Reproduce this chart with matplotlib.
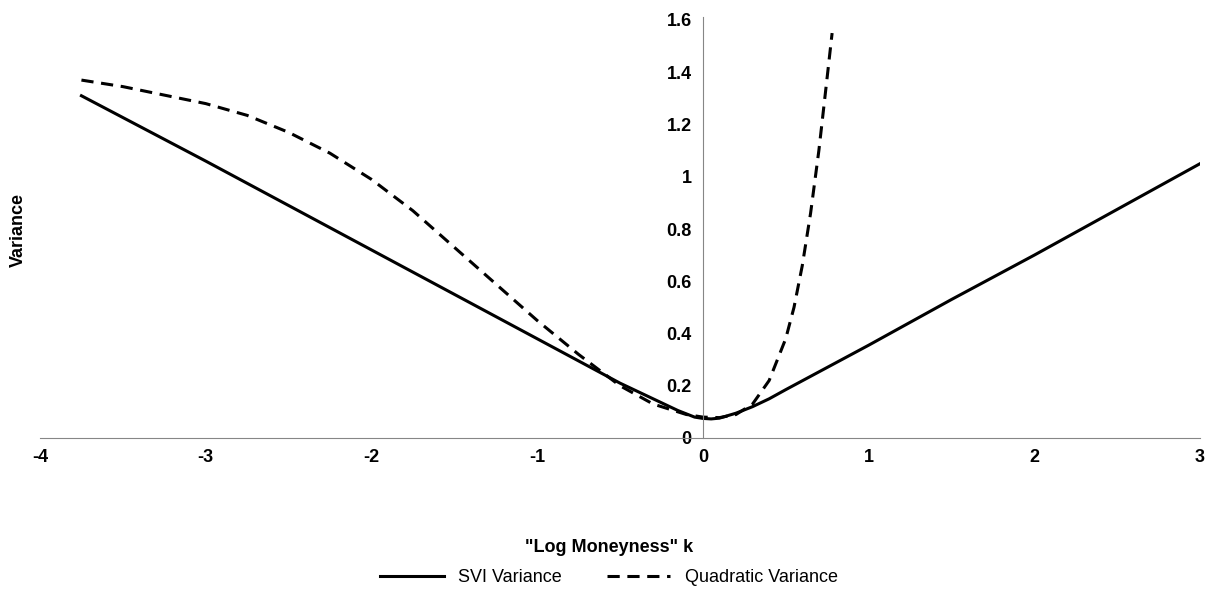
import matplotlib.pyplot as plt

plt.rcParams['font.family'] = ['Liberation Sans', 'DejaVu Sans']
plt.rcParams['axes.unicode_minus'] = False

# SVI variance
svi_k = [-3.75, -3.0, -2.5, -2.0, -1.5, -1.0, -0.75, -0.5, -0.35, -0.25, -0.15, -0.05, 0.0, 0.05, 0.1, 0.2, 0.3, 0.4, 0.5, 0.75, 1.0, 1.5, 2.0, 2.5, 3.0]
svi_w = [1.31, 1.06, 0.89, 0.72, 0.55, 0.38, 0.295, 0.21, 0.165, 0.135, 0.105, 0.08, 0.075, 0.073, 0.076, 0.095, 0.12, 0.15, 0.185, 0.27, 0.355, 0.53, 0.70, 0.875, 1.05]

# Quadratic variance
quad_k = [-3.75, -3.5, -3.0, -2.75, -2.5, -2.25, -2.0, -1.75, -1.5, -1.25, -1.0, -0.75, -0.5, -0.3, -0.1, 0.0, 0.1, 0.2, 0.3, 0.4, 0.5, 0.55, 0.6, 0.65, 0.7, 0.75, 0.78]
quad_w = [1.37, 1.345, 1.28, 1.235, 1.17, 1.09, 0.99, 0.87, 0.73, 0.59, 0.45, 0.32, 0.2, 0.13, 0.09, 0.08, 0.078, 0.09, 0.13, 0.22, 0.38, 0.5, 0.66, 0.86, 1.1, 1.38, 1.55]

fig = plt.figure(figsize=(12.18, 5.99), dpi=100)
ax = fig.add_axes([40 / 1218, 161 / 599, 1160 / 1218, 418 / 599])

ax.plot(svi_k, svi_w, color='black', lw=2.2, label='SVI Variance')
ax.plot(quad_k, quad_w, color='black', lw=2.2, ls=(0, (4, 2.5)), label='Quadratic Variance')

ax.set_xlim(-4, 3)
ax.set_ylim(0, 1.6)
ax.spines['left'].set_position(('data', 0))
ax.spines['right'].set_visible(False)
ax.spines['top'].set_visible(False)
ax.spines['left'].set_color('#868686')
ax.spines['bottom'].set_color('#868686')
ax.spines['left'].set_bounds(0, 1.61)
ax.set_yticks([0, 0.2, 0.4, 0.6, 0.8, 1, 1.2, 1.4, 1.6])
ax.set_yticklabels(['0', '0.2', '0.4', '0.6', '0.8', '1', '1.2', '1.4', '1.6'])
ax.set_xticks(range(-4, 4))
ax.tick_params(length=0, labelsize=13, pad=8)
for t in ax.get_xticklabels() + ax.get_yticklabels():
    t.set_fontweight('bold')

fig.text(18 / 1218, 1 - 230 / 599, 'Variance', rotation=90, ha='center', va='center', fontsize=13, fontweight='bold')
fig.text(0.5, 1 - 547 / 599, '"Log Moneyness" k', ha='center', va='center', fontsize=13, fontweight='bold')
fig.legend(loc='center', bbox_to_anchor=(0.5, 1 - 578 / 599), ncol=2, frameon=False, fontsize=13,
           handlelength=3.5, columnspacing=2.5)

fig.savefig('out.png', dpi=100)
